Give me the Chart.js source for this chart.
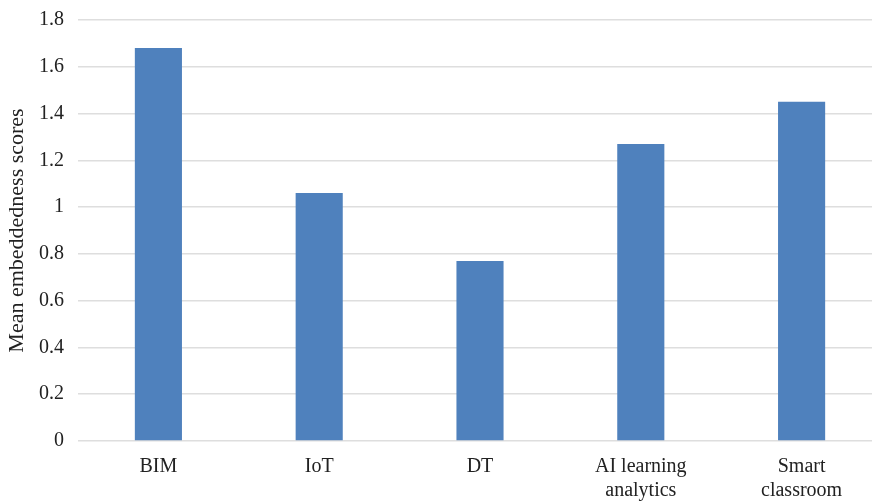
<!DOCTYPE html>
<html>
<head>
<meta charset="utf-8">
<script src="https://cdn.jsdelivr.net/npm/chart.js@4/dist/chart.umd.min.js"></script>
<style>
  html, body { margin: 0; padding: 0; background: #fff; overflow: hidden; }
  canvas { display: block; margin-top: -6px; }
</style>
</head>
<body>
<canvas id="scoreChart" width="882" height="509"></canvas>
<script>
// Technologies and their mean embeddedness scores
const technologies = ["BIM", "IoT", "DT", ["AI learning", "analytics"], ["Smart", "classroom"]];
const meanScores = [1.68, 1.06, 0.77, 1.27, 1.45];
const yTicks = [0, 0.2, 0.4, 0.6, 0.8, 1, 1.2, 1.4, 1.6, 1.8];

const serif = "'Liberation Serif', 'Times New Roman', serif";

function createChart() {
  const ctx = document.getElementById("scoreChart").getContext("2d");
  new Chart(ctx, {
    type: "bar",
    data: {
      labels: technologies,
      datasets: [
        {
          label: "Mean embeddedness scores",
          data: meanScores,
          backgroundColor: "#4f81bd",
          barPercentage: 0.293,
          categoryPercentage: 1,
        },
      ],
    },
    options: {
      responsive: false,
      animation: false,
      devicePixelRatio: 1,
      layout: {
        padding: { top: 3, right: 0, left: 0, bottom: 0 },
      },
      plugins: {
        legend: { display: false },
        tooltip: { enabled: false },
      },
      scales: {
        x: {
          afterFit: (axis) => {
            axis.height = 62;
          },
          grid: { display: false, drawTicks: false },
          border: { display: false },
          ticks: {
            color: "#222",
            font: { family: serif, size: 20, lineHeight: 1.2 },
            padding: 14,
            maxRotation: 0,
          },
        },
        y: {
          min: 0,
          max: 1.8,
          afterBuildTicks: (axis) => {
            axis.ticks = yTicks.map((v) => ({ value: v }));
          },
          afterFit: (axis) => {
            axis.width = 78;
          },
          grid: {
            color: "#dedede",
            lineWidth: 1.5,
            drawTicks: false,
          },
          border: { display: false },
          ticks: {
            color: "#222",
            font: { family: serif, size: 20 },
            padding: 14,
            callback: (v) => String(Math.round(v * 10) / 10),
          },
          title: {
            display: true,
            text: "Mean embeddedness scores",
            color: "#222",
            font: { family: serif, size: 22 },
            padding: { top: 4, bottom: 8 },
          },
        },
      },
    },
  });
}

createChart();
</script>
</body>
</html>
